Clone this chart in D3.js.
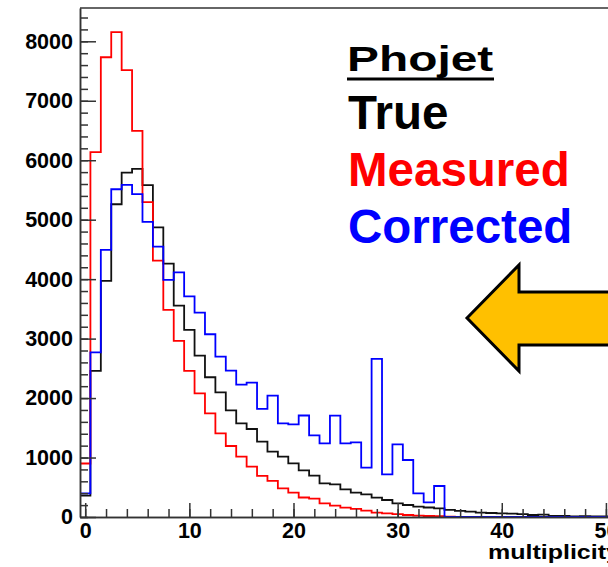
<!DOCTYPE html>
<html>
<head>
<meta charset="utf-8">
<script src="https://cdn.jsdelivr.net/npm/d3@7"></script>
<style>
	body { margin: 0; background: #fff; }
	svg { display: block; font-family: "Liberation Sans", Arial, sans-serif; font-weight: bold; }
</style>
</head>
<body>
<div id="chart"></div>
<script>
// bin contents, one value per unit of multiplicity (bin i spans i-0.5 .. i+0.5)
var trueCounts = [360, 2456, 3970, 5260, 5790, 5855, 5582, 4870, 4262, 3555,
	3146, 2714, 2350, 2097, 1794, 1576, 1480, 1267, 1099, 1015,
	903, 785, 695, 566, 549, 465, 409, 381, 325, 286,
	230, 202, 174, 160, 145, 120, 104, 90, 75, 67,
	62, 56, 50, 34, 40, 17, 17, 12, 15, 10,
	8, 6, 5, 4, 3, 2];

var measuredCounts = [900, 6135, 7732, 8153, 7514, 6493, 5295, 4310, 3482, 2962,
	2456, 2080, 1744, 1408, 1194, 1015, 846, 690, 606, 482,
	409, 328, 308, 230, 191, 157, 135, 107, 73, 62,
	50, 34, 22, 17, 15, 5, 3, 2, 1, 0,
	0, 0, 0, 0, 0, 0, 0, 0, 0, 0,
	0, 0, 0, 0, 0, 0];

var correctedCounts = [396, 2770, 4491, 5512, 5585, 5430, 4962, 4547, 3987, 4113,
	3710, 3437, 3073, 2697, 2461, 2226, 2259, 1817, 2041, 1576,
	1559, 1707, 1374, 1239, 1704, 1239, 1256, 830, 2658, 718,
	1222, 959, 398, 247, 521, 0, 0, 0, 0, 0,
	0, 0, 0, 0, 0, 0, 0, 0, 0, 0,
	0, 0, 0, 0, 0, 0];

var xTickLabels = [0, 10, 20, 30, 40, 50, 60];
var yTickLabels = [0, 1000, 2000, 3000, 4000, 5000, 6000, 7000, 8000];

var legendLines = [
	{text: 'True', color: '#000000'},
	{text: 'Measured', color: '#ff0000'},
	{text: 'Corrected', color: '#0000ff'}
];

var svgWidth = 608, svgHeight = 567;
var frame = {left: 80, top: 8, bottom: 517, right: 809};

var xScale = d3.scaleLinear()
	.domain([-0.5, 69.5])
	.range([frame.left, frame.right]);

var yScale = d3.scaleLinear()
	.domain([0, 8560])
	.range([frame.bottom, frame.top]);

var svg = d3.select('#chart').append('svg')
	.attr('width', svgWidth)
	.attr('height', svgHeight);

svg.append('clipPath').attr('id', 'frameClip')
	.append('rect')
	.attr('x', frame.left)
	.attr('y', frame.top)
	.attr('width', frame.right - frame.left)
	.attr('height', frame.bottom - frame.top);

// outline of a histogram: step up/down at every bin edge
function histPoints(counts) {
	var pts = [[-0.5, 0]];
	counts.forEach(function(v, i) {
		pts.push([i - 0.5, v]);
	});
	pts.push([counts.length - 0.5, counts[counts.length - 1]]);
	pts.push([counts.length - 0.5, 0]);
	return pts;
}

var stepLine = d3.line()
	.x(function(d) { return xScale(d[0]); })
	.y(function(d) { return yScale(d[1]); })
	.curve(d3.curveStepAfter);

var hists = svg.append('g').attr('clip-path', 'url(#frameClip)');

[[trueCounts, '#111'], [measuredCounts, '#ff0000'], [correctedCounts, '#0000ff']].forEach(function(h) {
	hists.append('path')
		.attr('d', stepLine(histPoints(h[0])))
		.attr('fill', 'none')
		.attr('stroke', h[1])
		.attr('stroke-width', 1.8);
});

// axes, ticks pointing into the frame
var yMinor = d3.axisLeft(yScale)
	.tickValues(d3.range(0, 8600, 200))
	.tickSizeInner(-8).tickSizeOuter(0)
	.tickFormat('');
var yMajor = d3.axisLeft(yScale)
	.tickValues(yTickLabels)
	.tickSizeInner(-16).tickSizeOuter(0)
	.tickPadding(7)
	.tickFormat(d3.format('d'));

var xMinor = d3.axisBottom(xScale)
	.tickValues(d3.range(0, 70, 2))
	.tickSizeInner(-8).tickSizeOuter(0)
	.tickFormat('');
var xMajor = d3.axisBottom(xScale)
	.tickValues(xTickLabels)
	.tickSizeInner(-14).tickSizeOuter(0)
	.tickPadding(6)
	.tickFormat(d3.format('d'));

var yGuide = svg.append('g').attr('transform', 'translate(' + frame.left + ',0)');
yGuide.append('g').call(yMinor);
yGuide.append('g').call(yMajor);

var xGuide = svg.append('g').attr('transform', 'translate(0,' + frame.bottom + ')');
xGuide.append('g').call(xMinor);
xGuide.append('g').call(xMajor);

svg.selectAll('.domain, .tick line')
	.attr('stroke', '#333')
	.attr('stroke-width', 1.5);
svg.selectAll('.tick text')
	.attr('fill', '#000')
	.style('font-size', '21.5px')
	.style('font-weight', 'bold')
	.style('font-family', '"Liberation Sans", Arial, sans-serif');

// top edge of the frame
svg.append('line')
	.attr('x1', frame.left).attr('x2', frame.right)
	.attr('y1', frame.top).attr('y2', frame.top)
	.attr('stroke', '#333')
	.attr('stroke-width', 1.5);

svg.append('text')
	.attr('transform', 'translate(488,559) scale(1.25,1)')
	.style('font-size', '20px')
	.text('multiplicity');

// generator label and legend
svg.append('text')
	.attr('transform', 'translate(347,71) scale(1.33,1)')
	.style('font-size', '36px')
	.text('Phojet');
svg.append('rect')
	.attr('x', 347).attr('y', 77.5)
	.attr('width', 147).attr('height', 3)
	.attr('fill', '#000');

svg.selectAll('.legend').data(legendLines)
	.enter().append('text')
	.attr('class', 'legend')
	.attr('x', 348)
	.attr('y', function(d, i) { return 128.5 + i * 57.2; })
	.attr('fill', function(d) { return d.color; })
	.style('font-size', '47.5px')
	.text(function(d) { return d.text; });

// arrow pointing at the tail
svg.append('path')
	.attr('d', 'M467,318 L519,265 L519,292 L625,292 L625,345 L519,345 L519,371 Z')
	.attr('fill', '#ffc000')
	.attr('stroke', '#000')
	.attr('stroke-width', 3)
	.attr('stroke-linejoin', 'miter');
</script>
</body>
</html>
